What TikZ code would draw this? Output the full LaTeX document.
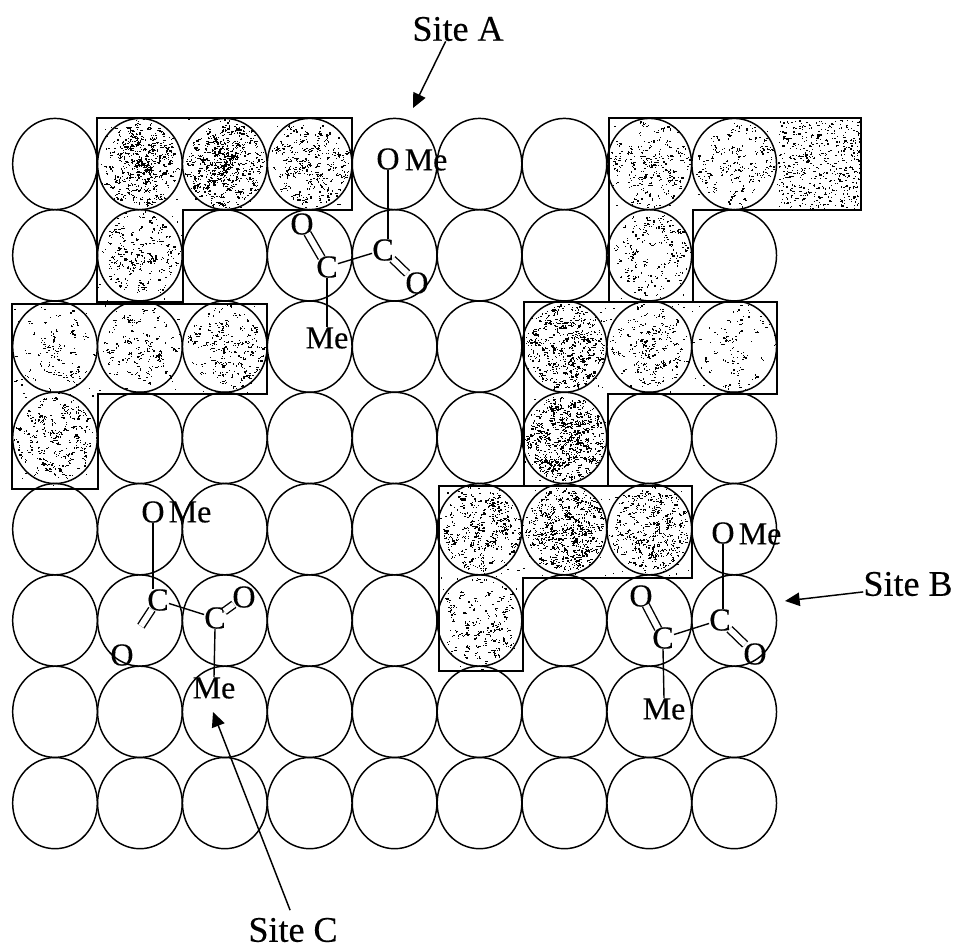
\documentclass[tikz,border=0pt]{standalone}
\usepackage{fontspec}
\setmainfont{Liberation Serif}
\newfontfamily\heavyserif[FakeBold=0.35]{Liberation Serif}
\usetikzlibrary{shapes.geometric,arrows.meta}
\tikzset{
  cell/.style={ellipse,draw=black,line width=1.1pt,minimum width=63.5pt,minimum height=68.4pt,inner sep=0pt,outer sep=0pt},
  atom/.style={font=\heavyserif\fontsize{24}{24}\selectfont,inner sep=0pt,text=black},
  sitelabel/.style={font=\heavyserif\fontsize{27}{27}\selectfont,inner sep=0pt,text=black},
  bond/.style={line width=1.05pt,black},
  dbl/.style={line width=1.05pt,black,double=white,double distance=4.4pt,shorten >=-1.5pt,shorten <=-1.5pt},
  pointer/.style={line width=1.1pt,black,-{Triangle[length=11pt,width=10pt]}},
  patch/.style={draw=black,line width=1.7pt,line join=miter},
}
\newcommand{\stipdot}[2]{%
  \pgfmathsetmacro{\stW}{0.7+2.6*rnd*rnd}%
  \pgfmathsetmacro{\stH}{0.7+1.6*rnd*rnd}%
  \fill[black] (#1,#2) rectangle ++(\stW,\stH);}
% centre x, centre y, clusters, radial exponent: each cluster holds three specks
\newcommand{\stipcirc}[4]{%
  \foreach \k in {1,...,#3}{%
    \pgfmathsetmacro{\stA}{rnd*360}%
    \pgfmathsetmacro{\stR}{pow(rnd,#4)}%
    \pgfmathsetmacro{\stX}{#1+39*\stR*cos(\stA)}%
    \pgfmathsetmacro{\stY}{#2+42*\stR*sin(\stA)}%
    \stipdot{\stX}{\stY}%
    \pgfmathsetmacro{\stP}{\stX+5*rnd-2.5}%
    \pgfmathsetmacro{\stQ}{\stY+5*rnd-2.5}%
    \stipdot{\stP}{\stQ}%
    \pgfmathsetmacro{\stP}{\stX+6*rnd-3}%
    \pgfmathsetmacro{\stQ}{\stY+6*rnd-3}%
    \stipdot{\stP}{\stQ}}}
% box x0,y0,w,h,count
\newcommand{\stipbox}[5]{%
  \foreach \k in {1,...,#5}{%
    \pgfmathsetmacro{\stX}{#1+#3*rnd}%
    \pgfmathsetmacro{\stY}{#2+#4*rnd}%
    \stipdot{\stX}{\stY}}}
\begin{document}
\begin{tikzpicture}[x=0.75pt,y=-0.75pt]
\useasboundingbox (0,0) rectangle (957,950);
\pgfmathsetseed{4711}
% background stipple of the five patches
\begin{scope}
\clip (97,118)--(352,118)--(352,210)--(183,210)--(183,302)--(97,302)--cycle;
\stipbox{97}{118}{255}{184}{170}
\end{scope}
\begin{scope}
\clip (12,304)--(267,304)--(267,394)--(98,394)--(98,489)--(12,489)--cycle;
\stipbox{12}{304}{255}{185}{140}
\end{scope}
\begin{scope}
\clip (609,118)--(861,118)--(861,210)--(693,210)--(693,302)--(609,302)--cycle;
\stipbox{609}{118}{252}{184}{140}
\stipbox{778}{120}{82}{88}{520}
\end{scope}
\begin{scope}
\clip (524,302)--(777,302)--(777,394)--(608,394)--(608,486)--(524,486)--cycle;
\stipbox{524}{302}{253}{184}{170}
\end{scope}
\begin{scope}
\clip (439,486)--(692,486)--(692,578)--(523,578)--(523,671)--(439,671)--cycle;
\stipbox{439}{486}{253}{185}{170}
\end{scope}
% stipple of the shaded spheres
\stipcirc{140}{164}{240}{0.7}
\stipcirc{225}{164}{280}{0.7}
\stipcirc{310}{164}{160}{0.6}
\stipcirc{140}{255}{110}{0.6}
\stipcirc{55}{347}{55}{0.6}
\stipcirc{140}{347}{75}{0.6}
\stipcirc{225}{347}{105}{0.55}
\stipcirc{55}{438}{130}{0.55}
\stipcirc{650}{164}{110}{0.55}
\stipcirc{735}{164}{90}{0.55}
\stipcirc{650}{255}{90}{0.55}
\stipcirc{565}{347}{230}{0.6}
\stipcirc{650}{347}{105}{0.6}
\stipcirc{735}{347}{40}{0.5}
\stipcirc{565}{438}{330}{0.55}
\stipcirc{480}{529}{180}{0.6}
\stipcirc{565}{529}{290}{0.6}
\stipcirc{650}{529}{190}{0.6}
\stipcirc{480}{620}{95}{0.55}
% patch outlines
\draw[patch] (97,118)--(352,118)--(352,210)--(183,210)--(183,302)--(97,302)--cycle;
\draw[patch] (12,304)--(267,304)--(267,394)--(98,394)--(98,489)--(12,489)--cycle;
\draw[patch] (609,118)--(861,118)--(861,210)--(693,210)--(693,302)--(609,302)--cycle;
\draw[patch] (524,302)--(777,302)--(777,394)--(608,394)--(608,486)--(524,486)--cycle;
\draw[patch] (439,486)--(692,486)--(692,578)--(523,578)--(523,671)--(439,671)--cycle;
% sphere grid
\foreach \i in {0,...,8}{
  \foreach \j in {0,...,7}{
    \node[cell] (c\i-\j) at ({55+84.9*\i},{164+91.3*\j}) {};
  }
}
% Site A molecule
\node[atom] (aO1) at (388,159) {O};
\node[atom] (aMe1) at (426,160) {Me};
\node[atom] (aC1) at (383,250) {C};
\node[atom] (aC2) at (327,267) {C};
\node[atom] (aO2) at (302,224) {O};
\node[atom] (aO3) at (417,283) {O};
\node[atom] (aMe2) at (327,338) {Me};
\draw[bond] (aO1.south) -- (aO1.south |- aC1.north);
\draw[bond] (aC1) -- (aC2);
\draw[dbl] (aC2) -- (aO2);
\draw[dbl] (aC1) -- (aO3);
\draw[bond] (aC2.south) -- (aMe2.north);
% Site B molecule
\node[atom] (bO1) at (723,533) {O};
\node[atom] (bMe1) at (760,534) {Me};
\node[atom] (bC1) at (720,620) {C};
\node[atom] (bC2) at (663,638) {C};
\node[atom] (bO2) at (641,596) {O};
\node[atom] (bO3) at (755,654) {O};
\node[atom] (bMe2) at (664,709) {Me};
\draw[bond] (bO1.south) -- (bO1.south |- bC1.north);
\draw[bond] (bC1) -- (bC2);
\draw[dbl] (bC2) -- (bO2);
\draw[dbl] (bC1) -- (bO3);
\draw[bond] (bC2.south) -- (bMe2.north);
% Site C molecule
\node[atom] (cO1) at (153,512) {O};
\node[atom] (cMe1) at (190,512) {Me};
\node[atom] (cC1) at (158,600) {C};
\node[atom] (cC2) at (215,618) {C};
\node[atom] (cO2) at (244,597) {O};
\node[atom] (cO3) at (122,655) {O};
\node[atom] (cMe2) at (214,688) {Me};
\draw[bond] (cO1.south) -- (cO1.south |- cC1.north);
\draw[bond] (cC1) -- (cC2);
\draw[dbl] (cC2) -- (cO2);
\draw[dbl,shorten >=16pt] (cC1) -- (cO3);
\draw[bond] (cC2.south) -- (cMe2.north);
% site labels and pointers
\node[sitelabel] (siteA) at (458,29) {Site A};
\node[sitelabel] (siteB) at (908,584) {Site B};
\node[sitelabel] (siteC) at (293,930) {Site C};
\coordinate (tipA) at (413,108);
\coordinate (tipB) at (785,601);
\coordinate (tipC) at (213,712);
\draw[pointer] (siteA.225) -- (tipA);
\draw[pointer] (siteB.190) -- (tipB);
\draw[pointer,shorten <=6pt] (siteC.north) -- (tipC);
\end{tikzpicture}
\end{document}
